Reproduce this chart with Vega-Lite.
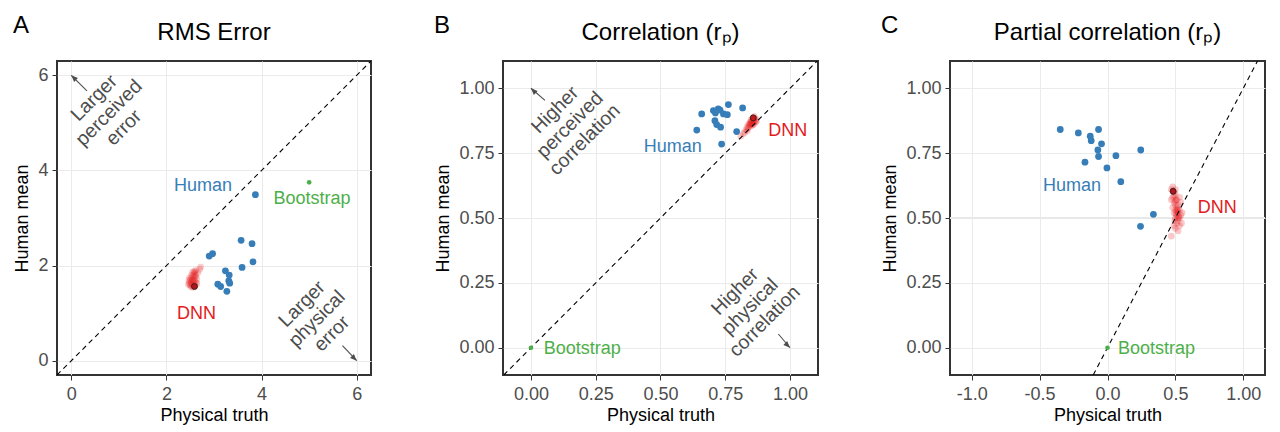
{
  "$schema": "https://vega.github.io/schema/vega-lite/v6.json",
  "padding": {"left": 12, "top": 14, "right": 5, "bottom": 4},
  "spacing": 61,
  "datasets": {
    "rmsPts": [
      {"group": "Human", "x": 3.87, "y": 3.49}, {"group": "Human", "x": 3.57, "y": 2.53}, {"group": "Human", "x": 3.80, "y": 2.46},
      {"group": "Human", "x": 2.90, "y": 2.20}, {"group": "Human", "x": 2.97, "y": 2.25}, {"group": "Human", "x": 3.82, "y": 2.08},
      {"group": "Human", "x": 3.59, "y": 1.96}, {"group": "Human", "x": 3.24, "y": 1.89}, {"group": "Human", "x": 3.32, "y": 1.80},
      {"group": "Human", "x": 3.08, "y": 1.61}, {"group": "Human", "x": 3.14, "y": 1.56}, {"group": "Human", "x": 3.31, "y": 1.68},
      {"group": "Human", "x": 3.33, "y": 1.63}, {"group": "Human", "x": 3.27, "y": 1.46},
      {"group": "Bootstrap", "x": 5.0, "y": 3.75},
      {"group": "DNN mean", "x": 2.59, "y": 1.56},
      {"group": "DNN", "x": 2.55, "y": 1.62}, {"group": "DNN", "x": 2.52, "y": 1.66}, {"group": "DNN", "x": 2.50, "y": 1.70},
      {"group": "DNN", "x": 2.53, "y": 1.74}, {"group": "DNN", "x": 2.56, "y": 1.78}, {"group": "DNN", "x": 2.58, "y": 1.82},
      {"group": "DNN", "x": 2.60, "y": 1.86}, {"group": "DNN", "x": 2.62, "y": 1.80}, {"group": "DNN", "x": 2.57, "y": 1.70},
      {"group": "DNN", "x": 2.60, "y": 1.68}, {"group": "DNN", "x": 2.54, "y": 1.58}, {"group": "DNN", "x": 2.58, "y": 1.60},
      {"group": "DNN", "x": 2.62, "y": 1.64}, {"group": "DNN", "x": 2.48, "y": 1.64}, {"group": "DNN", "x": 2.50, "y": 1.58},
      {"group": "DNN", "x": 2.52, "y": 1.55}, {"group": "DNN", "x": 2.56, "y": 1.54}, {"group": "DNN", "x": 2.60, "y": 1.58},
      {"group": "DNN", "x": 2.64, "y": 1.72}, {"group": "DNN", "x": 2.66, "y": 1.85}, {"group": "DNN", "x": 2.70, "y": 1.92},
      {"group": "DNN", "x": 2.72, "y": 1.97}, {"group": "DNN", "x": 2.62, "y": 1.90}, {"group": "DNN", "x": 2.55, "y": 1.86},
      {"group": "DNN", "x": 2.53, "y": 1.80}, {"group": "DNN", "x": 2.49, "y": 1.75}, {"group": "DNN", "x": 2.47, "y": 1.69},
      {"group": "DNN", "x": 2.57, "y": 1.66}, {"group": "DNN", "x": 2.59, "y": 1.75}, {"group": "DNN", "x": 2.61, "y": 1.77},
      {"group": "DNN", "x": 2.54, "y": 1.69}, {"group": "DNN", "x": 2.51, "y": 1.62}, {"group": "DNN", "x": 2.58, "y": 1.88},
      {"group": "DNN", "x": 2.64, "y": 1.62}, {"group": "DNN", "x": 2.46, "y": 1.60}
    ],
    "rmsLabels": [
      {"group": "Human", "label": "Human", "x": 2.77, "y": 3.68},
      {"group": "Bootstrap", "label": "Bootstrap", "x": 5.06, "y": 3.40},
      {"group": "DNN", "label": "DNN", "x": 2.63, "y": 0.98}
    ],
    "rmsNotes": [
      {"note": "Larger\nperceived\nerror", "x": 0.48, "y": 5.52},
      {"note": "Larger\nphysical\nerror", "x": 4.85, "y": 1.19}
    ],
    "rmsArrows": [
      {"x": 0.0, "y": 6.0, "x0": 0.33, "y0": 5.67, "corner": "topleft"},
      {"x": 6.0, "y": 0.0, "x0": 5.70, "y0": 0.32, "corner": "bottomright"}
    ],
    "corPts": [
      {"group": "Human", "x": 0.640, "y": 0.839}, {"group": "Human", "x": 0.659, "y": 0.901}, {"group": "Human", "x": 0.704, "y": 0.914},
      {"group": "Human", "x": 0.723, "y": 0.920}, {"group": "Human", "x": 0.762, "y": 0.937}, {"group": "Human", "x": 0.817, "y": 0.924},
      {"group": "Human", "x": 0.758, "y": 0.898}, {"group": "Human", "x": 0.730, "y": 0.916}, {"group": "Human", "x": 0.743, "y": 0.901},
      {"group": "Human", "x": 0.710, "y": 0.875}, {"group": "Human", "x": 0.717, "y": 0.860}, {"group": "Human", "x": 0.732, "y": 0.850},
      {"group": "Human", "x": 0.794, "y": 0.833}, {"group": "Human", "x": 0.736, "y": 0.785}, {"group": "Human", "x": 0.712, "y": 0.905},
      {"group": "Bootstrap", "x": 0.0, "y": 0.0},
      {"group": "DNN mean", "x": 0.858, "y": 0.886},
      {"group": "DNN", "x": 0.85, "y": 0.87}, {"group": "DNN", "x": 0.86, "y": 0.88}, {"group": "DNN", "x": 0.855, "y": 0.865},
      {"group": "DNN", "x": 0.845, "y": 0.86}, {"group": "DNN", "x": 0.86, "y": 0.87}, {"group": "DNN", "x": 0.865, "y": 0.875},
      {"group": "DNN", "x": 0.85, "y": 0.855}, {"group": "DNN", "x": 0.84, "y": 0.85}, {"group": "DNN", "x": 0.87, "y": 0.88},
      {"group": "DNN", "x": 0.86, "y": 0.86}, {"group": "DNN", "x": 0.855, "y": 0.88}, {"group": "DNN", "x": 0.848, "y": 0.872},
      {"group": "DNN", "x": 0.862, "y": 0.884}, {"group": "DNN", "x": 0.852, "y": 0.862}, {"group": "DNN", "x": 0.843, "y": 0.858},
      {"group": "DNN", "x": 0.838, "y": 0.845}, {"group": "DNN", "x": 0.83, "y": 0.84}, {"group": "DNN", "x": 0.835, "y": 0.835},
      {"group": "DNN", "x": 0.825, "y": 0.83}, {"group": "DNN", "x": 0.82, "y": 0.825}, {"group": "DNN", "x": 0.858, "y": 0.877},
      {"group": "DNN", "x": 0.866, "y": 0.868}, {"group": "DNN", "x": 0.85, "y": 0.878}, {"group": "DNN", "x": 0.846, "y": 0.866},
      {"group": "DNN", "x": 0.87, "y": 0.872}, {"group": "DNN", "x": 0.856, "y": 0.858}, {"group": "DNN", "x": 0.84, "y": 0.862},
      {"group": "DNN", "x": 0.862, "y": 0.892}, {"group": "DNN", "x": 0.81, "y": 0.815}, {"group": "DNN", "x": 0.834, "y": 0.85}
    ],
    "corLabels": [
      {"group": "Human", "label": "Human", "x": 0.547, "y": 0.775},
      {"group": "DNN", "label": "DNN", "x": 0.991, "y": 0.834},
      {"group": "Bootstrap", "label": "Bootstrap", "x": 0.198, "y": -0.005}
    ],
    "corNotes": [
      {"note": "Higher\nperceived\ncorrelation", "x": 0.093, "y": 0.916},
      {"note": "Higher\nphysical\ncorrelation", "x": 0.788, "y": 0.216}
    ],
    "corArrows": [
      {"x": 0.0, "y": 1.0, "x0": 0.054, "y0": 0.953, "corner": "topleft"},
      {"x": 1.0, "y": 0.0, "x0": 0.955, "y0": 0.053, "corner": "bottomright"}
    ],
    "pcorPts": [
      {"group": "Human", "x": -0.348, "y": 0.841}, {"group": "Human", "x": -0.215, "y": 0.828}, {"group": "Human", "x": -0.127, "y": 0.815},
      {"group": "Human", "x": -0.120, "y": 0.798}, {"group": "Human", "x": -0.066, "y": 0.841}, {"group": "Human", "x": -0.044, "y": 0.786},
      {"group": "Human", "x": -0.071, "y": 0.762}, {"group": "Human", "x": -0.066, "y": 0.737}, {"group": "Human", "x": 0.062, "y": 0.740},
      {"group": "Human", "x": 0.245, "y": 0.762}, {"group": "Human", "x": -0.166, "y": 0.715}, {"group": "Human", "x": -0.004, "y": 0.693},
      {"group": "Human", "x": 0.098, "y": 0.640}, {"group": "Human", "x": 0.338, "y": 0.514}, {"group": "Human", "x": 0.243, "y": 0.468},
      {"group": "Bootstrap", "x": 0.0, "y": 0.0},
      {"group": "DNN mean", "x": 0.483, "y": 0.603},
      {"group": "DNN", "x": 0.48, "y": 0.62}, {"group": "DNN", "x": 0.47, "y": 0.61}, {"group": "DNN", "x": 0.49, "y": 0.60},
      {"group": "DNN", "x": 0.50, "y": 0.59}, {"group": "DNN", "x": 0.48, "y": 0.58}, {"group": "DNN", "x": 0.51, "y": 0.57},
      {"group": "DNN", "x": 0.49, "y": 0.56}, {"group": "DNN", "x": 0.50, "y": 0.55}, {"group": "DNN", "x": 0.52, "y": 0.55},
      {"group": "DNN", "x": 0.51, "y": 0.54}, {"group": "DNN", "x": 0.53, "y": 0.53}, {"group": "DNN", "x": 0.50, "y": 0.53},
      {"group": "DNN", "x": 0.52, "y": 0.52}, {"group": "DNN", "x": 0.49, "y": 0.52}, {"group": "DNN", "x": 0.51, "y": 0.51},
      {"group": "DNN", "x": 0.53, "y": 0.50}, {"group": "DNN", "x": 0.54, "y": 0.51}, {"group": "DNN", "x": 0.50, "y": 0.50},
      {"group": "DNN", "x": 0.52, "y": 0.49}, {"group": "DNN", "x": 0.51, "y": 0.48}, {"group": "DNN", "x": 0.53, "y": 0.47},
      {"group": "DNN", "x": 0.50, "y": 0.46}, {"group": "DNN", "x": 0.52, "y": 0.45}, {"group": "DNN", "x": 0.47, "y": 0.43},
      {"group": "DNN", "x": 0.55, "y": 0.52}, {"group": "DNN", "x": 0.54, "y": 0.56}, {"group": "DNN", "x": 0.48, "y": 0.54},
      {"group": "DNN", "x": 0.47, "y": 0.57}, {"group": "DNN", "x": 0.53, "y": 0.58}, {"group": "DNN", "x": 0.50, "y": 0.61},
      {"group": "DNN", "x": 0.52, "y": 0.50}, {"group": "DNN", "x": 0.515, "y": 0.53}, {"group": "DNN", "x": 0.505, "y": 0.57},
      {"group": "DNN", "x": 0.495, "y": 0.49}, {"group": "DNN", "x": 0.545, "y": 0.48}, {"group": "DNN", "x": 0.49, "y": 0.47},
      {"group": "DNN", "x": 0.51, "y": 0.525}, {"group": "DNN", "x": 0.52, "y": 0.535}, {"group": "DNN", "x": 0.505, "y": 0.515},
      {"group": "DNN", "x": 0.525, "y": 0.505}, {"group": "DNN", "x": 0.5, "y": 0.565}, {"group": "DNN", "x": 0.49, "y": 0.585}
    ],
    "pcorLabels": [
      {"group": "Human", "label": "Human", "x": -0.262, "y": 0.622},
      {"group": "DNN", "label": "DNN", "x": 0.809, "y": 0.539},
      {"group": "Bootstrap", "label": "Bootstrap", "x": 0.361, "y": -0.005}
    ]
  },
  "hconcat": [
    {
      "title": {"text": "A", "anchor": "start", "frame": "bounds", "baseline": "alphabetic", "offset": -37},
      "vconcat": [
        {
          "width": 314, "height": 314,
          "title": {"text": "RMS Error", "frame": "group", "baseline": "alphabetic", "offset": -3},
          "layer": [
            {
              "data": {"name": "rmsPts"},
              "transform": [{"filter": "datum.group === 'DNN'"}],
              "mark": {"type": "circle", "size": 44, "color": "#E41A1C", "opacity": 0.22},
              "encoding": {
                "x": {"field": "x", "type": "quantitative", "scale": {"domain": [-0.3, 6.3], "nice": false, "zero": false}, "axis": {"values": [0, 2, 4, 6], "title": "Physical truth"}},
                "y": {"field": "y", "type": "quantitative", "scale": {"domain": [-0.3, 6.3], "nice": false, "zero": false}, "axis": {"values": [0, 2, 4, 6], "title": "Human mean"}}
              }
            },
            {
              "data": {"values": [{}]},
              "mark": {"type": "rule", "color": "#000000", "strokeWidth": 1.1, "strokeDash": [5, 4], "clip": true},
              "encoding": {
                "x": {"datum": -0.3, "type": "quantitative"},
                "y": {"datum": -0.3, "type": "quantitative"},
                "x2": {"datum": 6.3},
                "y2": {"datum": 6.3}
              }
            },
            {
              "data": {"name": "rmsPts"},
              "transform": [{"filter": "datum.group === 'Human'"}],
              "mark": {"type": "circle", "size": 46, "color": "#377EB8", "opacity": 1},
              "encoding": {
                "x": {"field": "x", "type": "quantitative"},
                "y": {"field": "y", "type": "quantitative"}
              }
            },
            {
              "data": {"name": "rmsPts"},
              "transform": [{"filter": "datum.group === 'Bootstrap'"}],
              "mark": {"type": "circle", "size": 22, "color": "#4DAF4A", "opacity": 1},
              "encoding": {
                "x": {"field": "x", "type": "quantitative"},
                "y": {"field": "y", "type": "quantitative"}
              }
            },
            {
              "data": {"name": "rmsPts"},
              "transform": [{"filter": "datum.group === 'DNN mean'"}],
              "mark": {"type": "point", "shape": "circle", "size": 36, "filled": true, "fill": "#B3151A", "stroke": "#1a1a1a", "strokeWidth": 0.8, "opacity": 1},
              "encoding": {
                "x": {"field": "x", "type": "quantitative"},
                "y": {"field": "y", "type": "quantitative"}
              }
            },
            {
              "data": {"name": "rmsLabels"},
              "mark": {"type": "text", "fontSize": 18, "align": "center", "baseline": "middle", "clip": true},
              "encoding": {
                "x": {"field": "x", "type": "quantitative"},
                "y": {"field": "y", "type": "quantitative"},
                "text": {"field": "label"},
                "color": {"field": "group", "type": "nominal", "scale": {"domain": ["Human", "DNN", "Bootstrap"], "range": ["#377EB8", "#E41A1C", "#4DAF4A"]}, "legend": null}
              }
            },
            {
              "data": {"name": "rmsNotes"},
              "mark": {"type": "text", "fontSize": 19.5, "align": "center", "baseline": "middle", "angle": -45, "lineBreak": "\n", "lineHeight": 21, "color": "#4d4d4d", "clip": true},
              "encoding": {
                "x": {"field": "x", "type": "quantitative"},
                "y": {"field": "y", "type": "quantitative"},
                "text": {"field": "note"}
              }
            },
            {
              "data": {"name": "rmsArrows"},
              "mark": {"type": "rule", "color": "#4d4d4d", "strokeWidth": 1.1, "clip": true},
              "encoding": {
                "x": {"field": "x", "type": "quantitative"},
                "y": {"field": "y", "type": "quantitative"},
                "x2": {"field": "x0"},
                "y2": {"field": "y0"}
              }
            },
            {
              "data": {"name": "rmsArrows"},
              "transform": [{"filter": "datum.corner === 'topleft'"}],
              "mark": {"type": "point", "shape": "M0,0L-0.6,1.5L0.6,1.5Z", "filled": true, "fill": "#4d4d4d", "strokeWidth": 0, "size": 80, "angle": -45, "opacity": 1, "clip": true},
              "encoding": {
                "x": {"field": "x", "type": "quantitative"},
                "y": {"field": "y", "type": "quantitative"}
              }
            },
            {
              "data": {"name": "rmsArrows"},
              "transform": [{"filter": "datum.corner === 'bottomright'"}],
              "mark": {"type": "point", "shape": "M0,0L-0.6,1.5L0.6,1.5Z", "filled": true, "fill": "#4d4d4d", "strokeWidth": 0, "size": 80, "angle": 135, "opacity": 1, "clip": true},
              "encoding": {
                "x": {"field": "x", "type": "quantitative"},
                "y": {"field": "y", "type": "quantitative"}
              }
            }
          ]
        }
      ]
    },
    {
      "title": {"text": "B", "anchor": "start", "frame": "bounds", "baseline": "alphabetic", "offset": -37},
      "vconcat": [
        {
          "width": 315, "height": 314,
          "title": {"text": "Correlation (rₚ)", "frame": "group", "baseline": "alphabetic", "offset": -3},
          "layer": [
            {
              "data": {"name": "corPts"},
              "transform": [{"filter": "datum.group === 'DNN'"}],
              "mark": {"type": "circle", "size": 44, "color": "#E41A1C", "opacity": 0.22},
              "encoding": {
                "x": {"field": "x", "type": "quantitative", "scale": {"domain": [-0.108, 1.108], "nice": false, "zero": false}, "axis": {"values": [0, 0.25, 0.5, 0.75, 1], "format": ".2f", "title": "Physical truth"}},
                "y": {"field": "y", "type": "quantitative", "scale": {"domain": [-0.105, 1.105], "nice": false, "zero": false}, "axis": {"values": [0, 0.25, 0.5, 0.75, 1], "format": ".2f", "title": "Human mean"}}
              }
            },
            {
              "data": {"values": [{}]},
              "mark": {"type": "rule", "color": "#000000", "strokeWidth": 1.1, "strokeDash": [5, 4], "clip": true},
              "encoding": {
                "x": {"datum": -0.105, "type": "quantitative"},
                "y": {"datum": -0.105, "type": "quantitative"},
                "x2": {"datum": 1.105},
                "y2": {"datum": 1.105}
              }
            },
            {
              "data": {"name": "corPts"},
              "transform": [{"filter": "datum.group === 'Human'"}],
              "mark": {"type": "circle", "size": 46, "color": "#377EB8", "opacity": 1},
              "encoding": {
                "x": {"field": "x", "type": "quantitative"},
                "y": {"field": "y", "type": "quantitative"}
              }
            },
            {
              "data": {"name": "corPts"},
              "transform": [{"filter": "datum.group === 'Bootstrap'"}],
              "mark": {"type": "circle", "size": 22, "color": "#4DAF4A", "opacity": 1},
              "encoding": {
                "x": {"field": "x", "type": "quantitative"},
                "y": {"field": "y", "type": "quantitative"}
              }
            },
            {
              "data": {"name": "corPts"},
              "transform": [{"filter": "datum.group === 'DNN mean'"}],
              "mark": {"type": "point", "shape": "circle", "size": 36, "filled": true, "fill": "#C8161B", "stroke": "#1a1a1a", "strokeWidth": 0.8, "opacity": 1},
              "encoding": {
                "x": {"field": "x", "type": "quantitative"},
                "y": {"field": "y", "type": "quantitative"}
              }
            },
            {
              "data": {"name": "corLabels"},
              "mark": {"type": "text", "fontSize": 18, "align": "center", "baseline": "middle", "clip": true},
              "encoding": {
                "x": {"field": "x", "type": "quantitative"},
                "y": {"field": "y", "type": "quantitative"},
                "text": {"field": "label"},
                "color": {"field": "group", "type": "nominal", "scale": {"domain": ["Human", "DNN", "Bootstrap"], "range": ["#377EB8", "#E41A1C", "#4DAF4A"]}, "legend": null}
              }
            },
            {
              "data": {"name": "corNotes"},
              "mark": {"type": "text", "fontSize": 19.5, "align": "center", "baseline": "middle", "angle": -45, "lineBreak": "\n", "lineHeight": 21, "color": "#4d4d4d", "clip": true},
              "encoding": {
                "x": {"field": "x", "type": "quantitative"},
                "y": {"field": "y", "type": "quantitative"},
                "text": {"field": "note"}
              }
            },
            {
              "data": {"name": "corArrows"},
              "mark": {"type": "rule", "color": "#4d4d4d", "strokeWidth": 1.1, "clip": true},
              "encoding": {
                "x": {"field": "x", "type": "quantitative"},
                "y": {"field": "y", "type": "quantitative"},
                "x2": {"field": "x0"},
                "y2": {"field": "y0"}
              }
            },
            {
              "data": {"name": "corArrows"},
              "transform": [{"filter": "datum.corner === 'topleft'"}],
              "mark": {"type": "point", "shape": "M0,0L-0.6,1.5L0.6,1.5Z", "filled": true, "fill": "#4d4d4d", "strokeWidth": 0, "size": 80, "angle": -45, "opacity": 1, "clip": true},
              "encoding": {
                "x": {"field": "x", "type": "quantitative"},
                "y": {"field": "y", "type": "quantitative"}
              }
            },
            {
              "data": {"name": "corArrows"},
              "transform": [{"filter": "datum.corner === 'bottomright'"}],
              "mark": {"type": "point", "shape": "M0,0L-0.6,1.5L0.6,1.5Z", "filled": true, "fill": "#4d4d4d", "strokeWidth": 0, "size": 80, "angle": 135, "opacity": 1, "clip": true},
              "encoding": {
                "x": {"field": "x", "type": "quantitative"},
                "y": {"field": "y", "type": "quantitative"}
              }
            }
          ]
        }
      ]
    },
    {
      "title": {"text": "C", "anchor": "start", "frame": "bounds", "baseline": "alphabetic", "offset": -37},
      "vconcat": [
        {
          "width": 315, "height": 314,
          "title": {"text": "Partial correlation (rₚ)", "frame": "group", "baseline": "alphabetic", "offset": -3},
          "layer": [
            {
              "data": {"values": [{}]},
              "mark": {"type": "rule", "color": "#e8e8e8", "strokeWidth": 2},
              "encoding": {
                "y": {"datum": 0.5, "type": "quantitative", "scale": {"domain": [-0.105, 1.105], "nice": false, "zero": false}, "axis": {"values": [0, 0.25, 0.5, 0.75, 1], "format": ".2f", "title": "Human mean"}}
              }
            },
            {
              "data": {"name": "pcorPts"},
              "transform": [{"filter": "datum.group === 'DNN'"}],
              "mark": {"type": "circle", "size": 44, "color": "#E41A1C", "opacity": 0.24},
              "encoding": {
                "x": {"field": "x", "type": "quantitative", "scale": {"domain": [-1.16, 1.16], "nice": false, "zero": false}, "axis": {"values": [-1, -0.5, 0, 0.5, 1], "labelExpr": "datum.value == 1 ? '1.00' : replace(format(datum.value, '.1f'), '\u2212', '-')", "title": "Physical truth"}},
                "y": {"field": "y", "type": "quantitative", "scale": {"domain": [-0.105, 1.105], "nice": false, "zero": false}, "axis": {"values": [0, 0.25, 0.5, 0.75, 1], "format": ".2f", "title": "Human mean"}}
              }
            },
            {
              "data": {"values": [{}]},
              "mark": {"type": "rule", "color": "#000000", "strokeWidth": 1.1, "strokeDash": [5, 4], "clip": true},
              "encoding": {
                "x": {"datum": -0.105, "type": "quantitative"},
                "y": {"datum": -0.105, "type": "quantitative"},
                "x2": {"datum": 1.105},
                "y2": {"datum": 1.105}
              }
            },
            {
              "data": {"name": "pcorPts"},
              "transform": [{"filter": "datum.group === 'Human'"}],
              "mark": {"type": "circle", "size": 46, "color": "#377EB8", "opacity": 1},
              "encoding": {
                "x": {"field": "x", "type": "quantitative"},
                "y": {"field": "y", "type": "quantitative"}
              }
            },
            {
              "data": {"name": "pcorPts"},
              "transform": [{"filter": "datum.group === 'Bootstrap'"}],
              "mark": {"type": "circle", "size": 22, "color": "#4DAF4A", "opacity": 1},
              "encoding": {
                "x": {"field": "x", "type": "quantitative"},
                "y": {"field": "y", "type": "quantitative"}
              }
            },
            {
              "data": {"name": "pcorPts"},
              "transform": [{"filter": "datum.group === 'DNN mean'"}],
              "mark": {"type": "point", "shape": "circle", "size": 36, "filled": true, "fill": "#B3151A", "stroke": "#1a1a1a", "strokeWidth": 0.8, "opacity": 1},
              "encoding": {
                "x": {"field": "x", "type": "quantitative"},
                "y": {"field": "y", "type": "quantitative"}
              }
            },
            {
              "data": {"name": "pcorLabels"},
              "mark": {"type": "text", "fontSize": 18, "align": "center", "baseline": "middle", "clip": true},
              "encoding": {
                "x": {"field": "x", "type": "quantitative"},
                "y": {"field": "y", "type": "quantitative"},
                "text": {"field": "label"},
                "color": {"field": "group", "type": "nominal", "scale": {"domain": ["Human", "DNN", "Bootstrap"], "range": ["#377EB8", "#E41A1C", "#4DAF4A"]}, "legend": null}
              }
            }
          ]
        }
      ]
    }
  ],
  "config": {
    "font": "Liberation Sans",
    "view": {"stroke": "#333333", "strokeWidth": 2},
    "axis": {
      "grid": true, "gridColor": "#ebebeb", "gridWidth": 1,
      "domain": false, "ticks": true, "tickColor": "#333333", "tickSize": 5, "tickWidth": 1,
      "labelFontSize": 18, "labelColor": "#4d4d4d",
      "titleFontSize": 18, "titleFontWeight": "normal", "titleColor": "#000000"
    },
    "axisX": {"labelPadding": 5, "titlePadding": 3},
    "axisY": {"labelPadding": 4, "titlePadding": 6},
    "title": {"fontSize": 24, "fontWeight": "normal", "color": "#000000"}
  }
}
